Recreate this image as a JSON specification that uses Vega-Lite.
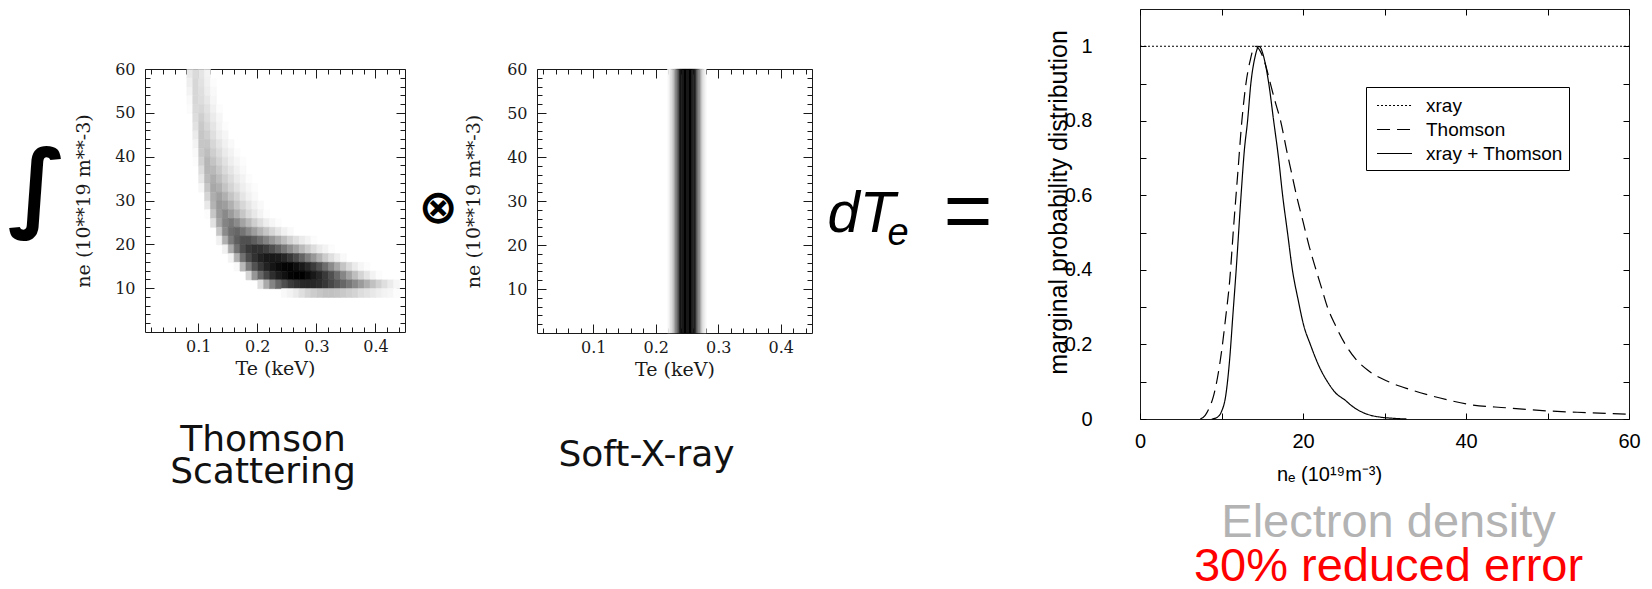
{
  "$schema": "https://vega.github.io/schema/vega-lite/v6.json",
  "background": "white",
  "padding": {"left": 6, "top": 8, "right": 0, "bottom": 0},
  "datasets": {
    "thomson": [
      {"te":0.08,"ne":58,"p":0.08},{"te":0.09,"ne":58,"p":0.13},{"te":0.10,"ne":58,"p":0.09},{"te":0.11,"ne":58,"p":0.04},
      {"te":0.08,"ne":56,"p":0.06},{"te":0.09,"ne":56,"p":0.14},{"te":0.10,"ne":56,"p":0.10},{"te":0.11,"ne":56,"p":0.05},{"te":0.12,"ne":56,"p":0.01},
      {"te":0.08,"ne":54,"p":0.04},{"te":0.09,"ne":54,"p":0.14},{"te":0.10,"ne":54,"p":0.11},{"te":0.11,"ne":54,"p":0.06},{"te":0.12,"ne":54,"p":0.02},
      {"te":0.08,"ne":52,"p":0.02},{"te":0.09,"ne":52,"p":0.14},{"te":0.10,"ne":52,"p":0.12},{"te":0.11,"ne":52,"p":0.08},{"te":0.12,"ne":52,"p":0.03},
      {"te":0.08,"ne":50,"p":0.01},{"te":0.09,"ne":50,"p":0.13},{"te":0.10,"ne":50,"p":0.14},{"te":0.11,"ne":50,"p":0.10},{"te":0.12,"ne":50,"p":0.05},{"te":0.13,"ne":50,"p":0.01},
      {"te":0.09,"ne":48,"p":0.12},{"te":0.10,"ne":48,"p":0.17},{"te":0.11,"ne":48,"p":0.12},{"te":0.12,"ne":48,"p":0.07},{"te":0.13,"ne":48,"p":0.03},
      {"te":0.09,"ne":46,"p":0.10},{"te":0.10,"ne":46,"p":0.19},{"te":0.11,"ne":46,"p":0.14},{"te":0.12,"ne":46,"p":0.09},{"te":0.13,"ne":46,"p":0.04},{"te":0.14,"ne":46,"p":0.01},
      {"te":0.09,"ne":44,"p":0.07},{"te":0.10,"ne":44,"p":0.20},{"te":0.11,"ne":44,"p":0.17},{"te":0.12,"ne":44,"p":0.11},{"te":0.13,"ne":44,"p":0.06},{"te":0.14,"ne":44,"p":0.03},
      {"te":0.09,"ne":42,"p":0.04},{"te":0.10,"ne":42,"p":0.20},{"te":0.11,"ne":42,"p":0.20},{"te":0.12,"ne":42,"p":0.14},{"te":0.13,"ne":42,"p":0.09},{"te":0.14,"ne":42,"p":0.05},{"te":0.15,"ne":42,"p":0.02},
      {"te":0.09,"ne":40,"p":0.02},{"te":0.10,"ne":40,"p":0.19},{"te":0.11,"ne":40,"p":0.23},{"te":0.12,"ne":40,"p":0.17},{"te":0.13,"ne":40,"p":0.12},{"te":0.14,"ne":40,"p":0.07},{"te":0.15,"ne":40,"p":0.04},{"te":0.16,"ne":40,"p":0.01},
      {"te":0.09,"ne":38,"p":0.01},{"te":0.10,"ne":38,"p":0.16},{"te":0.11,"ne":38,"p":0.26},{"te":0.12,"ne":38,"p":0.21},{"te":0.13,"ne":38,"p":0.15},{"te":0.14,"ne":38,"p":0.10},{"te":0.15,"ne":38,"p":0.06},{"te":0.16,"ne":38,"p":0.03},{"te":0.17,"ne":38,"p":0.01},
      {"te":0.10,"ne":36,"p":0.12},{"te":0.11,"ne":36,"p":0.26},{"te":0.12,"ne":36,"p":0.25},{"te":0.13,"ne":36,"p":0.19},{"te":0.14,"ne":36,"p":0.13},{"te":0.15,"ne":36,"p":0.09},{"te":0.16,"ne":36,"p":0.05},{"te":0.17,"ne":36,"p":0.02},
      {"te":0.10,"ne":34,"p":0.08},{"te":0.11,"ne":34,"p":0.24},{"te":0.12,"ne":34,"p":0.29},{"te":0.13,"ne":34,"p":0.23},{"te":0.14,"ne":34,"p":0.17},{"te":0.15,"ne":34,"p":0.12},{"te":0.16,"ne":34,"p":0.07},{"te":0.17,"ne":34,"p":0.04},{"te":0.18,"ne":34,"p":0.01},
      {"te":0.10,"ne":32,"p":0.03},{"te":0.11,"ne":32,"p":0.20},{"te":0.12,"ne":32,"p":0.31},{"te":0.13,"ne":32,"p":0.28},{"te":0.14,"ne":32,"p":0.21},{"te":0.15,"ne":32,"p":0.15},{"te":0.16,"ne":32,"p":0.10},{"te":0.17,"ne":32,"p":0.06},{"te":0.18,"ne":32,"p":0.03},{"te":0.19,"ne":32,"p":0.01},
      {"te":0.11,"ne":30,"p":0.15},{"te":0.12,"ne":30,"p":0.29},{"te":0.13,"ne":30,"p":0.34},{"te":0.14,"ne":30,"p":0.28},{"te":0.15,"ne":30,"p":0.21},{"te":0.16,"ne":30,"p":0.15},{"te":0.17,"ne":30,"p":0.09},{"te":0.18,"ne":30,"p":0.05},{"te":0.19,"ne":30,"p":0.02},
      {"te":0.11,"ne":28,"p":0.08},{"te":0.12,"ne":28,"p":0.27},{"te":0.13,"ne":28,"p":0.37},{"te":0.14,"ne":28,"p":0.35},{"te":0.15,"ne":28,"p":0.28},{"te":0.16,"ne":28,"p":0.20},{"te":0.17,"ne":28,"p":0.14},{"te":0.18,"ne":28,"p":0.09},{"te":0.19,"ne":28,"p":0.05},{"te":0.20,"ne":28,"p":0.02},
      {"te":0.11,"ne":26,"p":0.01},{"te":0.12,"ne":26,"p":0.20},{"te":0.13,"ne":26,"p":0.36},{"te":0.14,"ne":26,"p":0.43},{"te":0.15,"ne":26,"p":0.36},{"te":0.16,"ne":26,"p":0.28},{"te":0.17,"ne":26,"p":0.20},{"te":0.18,"ne":26,"p":0.13},{"te":0.19,"ne":26,"p":0.08},{"te":0.20,"ne":26,"p":0.04},{"te":0.21,"ne":26,"p":0.01},
      {"te":0.12,"ne":24,"p":0.10},{"te":0.13,"ne":24,"p":0.32},{"te":0.14,"ne":24,"p":0.45},{"te":0.15,"ne":24,"p":0.49},{"te":0.16,"ne":24,"p":0.42},{"te":0.17,"ne":24,"p":0.33},{"te":0.18,"ne":24,"p":0.25},{"te":0.19,"ne":24,"p":0.17},{"te":0.20,"ne":24,"p":0.11},{"te":0.21,"ne":24,"p":0.06},{"te":0.22,"ne":24,"p":0.03},{"te":0.23,"ne":24,"p":0.01},
      {"te":0.13,"ne":22,"p":0.20},{"te":0.14,"ne":22,"p":0.42},{"te":0.15,"ne":22,"p":0.53},{"te":0.16,"ne":22,"p":0.57},{"te":0.17,"ne":22,"p":0.51},{"te":0.18,"ne":22,"p":0.43},{"te":0.19,"ne":22,"p":0.35},{"te":0.20,"ne":22,"p":0.27},{"te":0.21,"ne":22,"p":0.20},{"te":0.22,"ne":22,"p":0.14},{"te":0.23,"ne":22,"p":0.09},{"te":0.24,"ne":22,"p":0.05},{"te":0.25,"ne":22,"p":0.02},
      {"te":0.13,"ne":20,"p":0.05},{"te":0.14,"ne":20,"p":0.28},{"te":0.15,"ne":20,"p":0.48},{"te":0.16,"ne":20,"p":0.60},{"te":0.17,"ne":20,"p":0.66},{"te":0.18,"ne":20,"p":0.66},{"te":0.19,"ne":20,"p":0.60},{"te":0.20,"ne":20,"p":0.53},{"te":0.21,"ne":20,"p":0.45},{"te":0.22,"ne":20,"p":0.37},{"te":0.23,"ne":20,"p":0.30},{"te":0.24,"ne":20,"p":0.23},{"te":0.25,"ne":20,"p":0.16},{"te":0.26,"ne":20,"p":0.11},{"te":0.27,"ne":20,"p":0.07},{"te":0.28,"ne":20,"p":0.04},{"te":0.29,"ne":20,"p":0.01},
      {"te":0.14,"ne":18,"p":0.05},{"te":0.15,"ne":18,"p":0.30},{"te":0.16,"ne":18,"p":0.52},{"te":0.17,"ne":18,"p":0.67},{"te":0.18,"ne":18,"p":0.76},{"te":0.19,"ne":18,"p":0.80},{"te":0.20,"ne":18,"p":0.79},{"te":0.21,"ne":18,"p":0.74},{"te":0.22,"ne":18,"p":0.67},{"te":0.23,"ne":18,"p":0.59},{"te":0.24,"ne":18,"p":0.50},{"te":0.25,"ne":18,"p":0.41},{"te":0.26,"ne":18,"p":0.33},{"te":0.27,"ne":18,"p":0.25},{"te":0.28,"ne":18,"p":0.18},{"te":0.29,"ne":18,"p":0.12},{"te":0.30,"ne":18,"p":0.07},{"te":0.31,"ne":18,"p":0.04},{"te":0.32,"ne":18,"p":0.01},
      {"te":0.15,"ne":16,"p":0.04},{"te":0.16,"ne":16,"p":0.28},{"te":0.17,"ne":16,"p":0.52},{"te":0.18,"ne":16,"p":0.68},{"te":0.19,"ne":16,"p":0.79},{"te":0.20,"ne":16,"p":0.87},{"te":0.21,"ne":16,"p":0.91},{"te":0.22,"ne":16,"p":0.92},{"te":0.23,"ne":16,"p":0.90},{"te":0.24,"ne":16,"p":0.85},{"te":0.25,"ne":16,"p":0.77},{"te":0.26,"ne":16,"p":0.68},{"te":0.27,"ne":16,"p":0.58},{"te":0.28,"ne":16,"p":0.47},{"te":0.29,"ne":16,"p":0.37},{"te":0.30,"ne":16,"p":0.27},{"te":0.31,"ne":16,"p":0.18},{"te":0.32,"ne":16,"p":0.11},{"te":0.33,"ne":16,"p":0.06},{"te":0.34,"ne":16,"p":0.02},
      {"te":0.16,"ne":14,"p":0.02},{"te":0.17,"ne":14,"p":0.25},{"te":0.18,"ne":14,"p":0.48},{"te":0.19,"ne":14,"p":0.65},{"te":0.20,"ne":14,"p":0.77},{"te":0.21,"ne":14,"p":0.87},{"te":0.22,"ne":14,"p":0.93},{"te":0.23,"ne":14,"p":0.97},{"te":0.24,"ne":14,"p":0.99},{"te":0.25,"ne":14,"p":0.99},{"te":0.26,"ne":14,"p":0.96},{"te":0.27,"ne":14,"p":0.91},{"te":0.28,"ne":14,"p":0.84},{"te":0.29,"ne":14,"p":0.75},{"te":0.30,"ne":14,"p":0.65},{"te":0.31,"ne":14,"p":0.54},{"te":0.32,"ne":14,"p":0.42},{"te":0.33,"ne":14,"p":0.31},{"te":0.34,"ne":14,"p":0.21},{"te":0.35,"ne":14,"p":0.13},{"te":0.36,"ne":14,"p":0.07},{"te":0.37,"ne":14,"p":0.03},{"te":0.38,"ne":14,"p":0.01},
      {"te":0.18,"ne":12,"p":0.15},{"te":0.19,"ne":12,"p":0.38},{"te":0.20,"ne":12,"p":0.56},{"te":0.21,"ne":12,"p":0.70},{"te":0.22,"ne":12,"p":0.81},{"te":0.23,"ne":12,"p":0.89},{"te":0.24,"ne":12,"p":0.95},{"te":0.25,"ne":12,"p":0.99},{"te":0.26,"ne":12,"p":1.0},{"te":0.27,"ne":12,"p":1.0},{"te":0.28,"ne":12,"p":0.97},{"te":0.29,"ne":12,"p":0.92},{"te":0.30,"ne":12,"p":0.85},{"te":0.31,"ne":12,"p":0.76},{"te":0.32,"ne":12,"p":0.66},{"te":0.33,"ne":12,"p":0.55},{"te":0.34,"ne":12,"p":0.44},{"te":0.35,"ne":12,"p":0.33},{"te":0.36,"ne":12,"p":0.23},{"te":0.37,"ne":12,"p":0.15},{"te":0.38,"ne":12,"p":0.09},{"te":0.39,"ne":12,"p":0.04},{"te":0.40,"ne":12,"p":0.01},
      {"te":0.20,"ne":10,"p":0.12},{"te":0.21,"ne":10,"p":0.30},{"te":0.22,"ne":10,"p":0.45},{"te":0.23,"ne":10,"p":0.57},{"te":0.24,"ne":10,"p":0.67},{"te":0.25,"ne":10,"p":0.75},{"te":0.26,"ne":10,"p":0.80},{"te":0.27,"ne":10,"p":0.84},{"te":0.28,"ne":10,"p":0.85},{"te":0.29,"ne":10,"p":0.85},{"te":0.30,"ne":10,"p":0.82},{"te":0.31,"ne":10,"p":0.77},{"te":0.32,"ne":10,"p":0.70},{"te":0.33,"ne":10,"p":0.63},{"te":0.34,"ne":10,"p":0.57},{"te":0.35,"ne":10,"p":0.50},{"te":0.36,"ne":10,"p":0.43},{"te":0.37,"ne":10,"p":0.36},{"te":0.38,"ne":10,"p":0.29},{"te":0.39,"ne":10,"p":0.22},{"te":0.40,"ne":10,"p":0.16},{"te":0.41,"ne":10,"p":0.11},{"te":0.42,"ne":10,"p":0.07},{"te":0.43,"ne":10,"p":0.03},
      {"te":0.24,"ne":8,"p":0.02},{"te":0.25,"ne":8,"p":0.04},{"te":0.26,"ne":8,"p":0.07},{"te":0.27,"ne":8,"p":0.11},{"te":0.28,"ne":8,"p":0.15},{"te":0.29,"ne":8,"p":0.18},{"te":0.30,"ne":8,"p":0.20},{"te":0.31,"ne":8,"p":0.22},{"te":0.32,"ne":8,"p":0.22},{"te":0.33,"ne":8,"p":0.21},{"te":0.34,"ne":8,"p":0.19},{"te":0.35,"ne":8,"p":0.17},{"te":0.36,"ne":8,"p":0.15},{"te":0.37,"ne":8,"p":0.12},{"te":0.38,"ne":8,"p":0.10},{"te":0.39,"ne":8,"p":0.08},{"te":0.40,"ne":8,"p":0.06},{"te":0.41,"ne":8,"p":0.04},{"te":0.42,"ne":8,"p":0.03},{"te":0.43,"ne":8,"p":0.01}
    ],
    "xray": [
      {"te":0.218,"p":0.02},{"te":0.220,"p":0.05},{"te":0.222,"p":0.09},{"te":0.224,"p":0.14},{"te":0.226,"p":0.21},
      {"te":0.228,"p":0.30},{"te":0.230,"p":0.41},{"te":0.232,"p":0.54},{"te":0.234,"p":0.67},{"te":0.236,"p":0.82},
      {"te":0.238,"p":0.93},{"te":0.240,"p":0.97},{"te":0.242,"p":1.0},{"te":0.244,"p":1.0},{"te":0.246,"p":1.0},
      {"te":0.248,"p":1.0},{"te":0.250,"p":1.0},{"te":0.252,"p":1.0},{"te":0.254,"p":1.0},{"te":0.256,"p":0.99},
      {"te":0.258,"p":0.96},{"te":0.260,"p":0.90},{"te":0.262,"p":0.80},{"te":0.264,"p":0.68},{"te":0.266,"p":0.55},
      {"te":0.268,"p":0.42},{"te":0.270,"p":0.30},{"te":0.272,"p":0.20},{"te":0.274,"p":0.12},{"te":0.276,"p":0.07},
      {"te":0.278,"p":0.03}
    ],
    "marginals": [
      {"s":"xray","x":0,"y":1},{"s":"xray","x":60,"y":1},
      {"s":"Thomson","x":7.4,"y":0},{"s":"Thomson","x":8,"y":0.01},{"s":"Thomson","x":8.5,"y":0.03},{"s":"Thomson","x":9,"y":0.06},
      {"s":"Thomson","x":9.5,"y":0.11},{"s":"Thomson","x":10,"y":0.18},{"s":"Thomson","x":10.5,"y":0.27},{"s":"Thomson","x":11,"y":0.37},
      {"s":"Thomson","x":11.5,"y":0.52},{"s":"Thomson","x":12,"y":0.66},{"s":"Thomson","x":12.5,"y":0.8},{"s":"Thomson","x":13,"y":0.9},
      {"s":"Thomson","x":13.5,"y":0.96},{"s":"Thomson","x":14.1,"y":1.0},{"s":"Thomson","x":14.8,"y":0.985},{"s":"Thomson","x":15.4,"y":0.95},
      {"s":"Thomson","x":16,"y":0.9},{"s":"Thomson","x":16.6,"y":0.85},{"s":"Thomson","x":17.25,"y":0.8},{"s":"Thomson","x":18,"y":0.72},
      {"s":"Thomson","x":18.6,"y":0.66},{"s":"Thomson","x":19.2,"y":0.6},{"s":"Thomson","x":20,"y":0.53},{"s":"Thomson","x":20.8,"y":0.46},
      {"s":"Thomson","x":21.6,"y":0.4},{"s":"Thomson","x":22.3,"y":0.35},{"s":"Thomson","x":23,"y":0.3},{"s":"Thomson","x":24,"y":0.25},
      {"s":"Thomson","x":25.2,"y":0.2},{"s":"Thomson","x":26.5,"y":0.16},{"s":"Thomson","x":28,"y":0.13},{"s":"Thomson","x":30.5,"y":0.1},
      {"s":"Thomson","x":33,"y":0.08},{"s":"Thomson","x":35.3,"y":0.065},{"s":"Thomson","x":38,"y":0.05},{"s":"Thomson","x":40.1,"y":0.04},
      {"s":"Thomson","x":45,"y":0.03},{"s":"Thomson","x":49.8,"y":0.022},{"s":"Thomson","x":55,"y":0.017},{"s":"Thomson","x":60,"y":0.013},
      {"s":"xray + Thomson","x":8.8,"y":0},{"s":"xray + Thomson","x":9.5,"y":0.005},{"s":"xray + Thomson","x":10,"y":0.02},{"s":"xray + Thomson","x":10.5,"y":0.06},
      {"s":"xray + Thomson","x":11,"y":0.16},{"s":"xray + Thomson","x":11.4,"y":0.28},{"s":"xray + Thomson","x":11.8,"y":0.4},{"s":"xray + Thomson","x":12.4,"y":0.6},
      {"s":"xray + Thomson","x":12.8,"y":0.72},{"s":"xray + Thomson","x":13.2,"y":0.8},{"s":"xray + Thomson","x":13.6,"y":0.9},{"s":"xray + Thomson","x":14.1,"y":0.97},
      {"s":"xray + Thomson","x":14.6,"y":1.0},{"s":"xray + Thomson","x":15.2,"y":0.97},{"s":"xray + Thomson","x":15.8,"y":0.9},{"s":"xray + Thomson","x":16.4,"y":0.8},
      {"s":"xray + Thomson","x":17,"y":0.7},{"s":"xray + Thomson","x":17.5,"y":0.6},{"s":"xray + Thomson","x":18.1,"y":0.5},{"s":"xray + Thomson","x":18.7,"y":0.4},
      {"s":"xray + Thomson","x":19.4,"y":0.32},{"s":"xray + Thomson","x":20.1,"y":0.25},{"s":"xray + Thomson","x":20.9,"y":0.2},{"s":"xray + Thomson","x":22,"y":0.14},
      {"s":"xray + Thomson","x":23,"y":0.1},{"s":"xray + Thomson","x":24,"y":0.07},{"s":"xray + Thomson","x":25.2,"y":0.05},{"s":"xray + Thomson","x":26,"y":0.035},
      {"s":"xray + Thomson","x":27.1,"y":0.02},{"s":"xray + Thomson","x":28.3,"y":0.01},{"s":"xray + Thomson","x":29.5,"y":0.005},{"s":"xray + Thomson","x":31,"y":0.002},
      {"s":"xray + Thomson","x":32.7,"y":0}
    ]
  },
  "hconcat": [
    {
      "spacing": 50,
      "vconcat": [
        {
          "width": 1,
          "height": 1,
          "view": {"stroke": null},
          "data": {"values": []},
          "mark": {"type": "rule"},
          "encoding": {}
        },
        {
          "spacing": 11,
          "hconcat": [
            {
              "width": 260,
              "height": 263,
              "title": {"text": ["Thomson", "Scattering"], "orient": "bottom", "frame": "group", "anchor": "middle", "dx": -12, "offset": 45, "font": "DejaVu Sans", "fontSize": 36, "fontWeight": "normal", "lineHeight": 32, "color": "#111111"},
              "resolve": {"axis": {"x": "independent", "y": "independent"}},
              "layer": [
                {
                  "data": {"name": "thomson"},
                  "mark": {"type": "rect", "binSpacing": 0, "strokeWidth": 0.6},
                  "encoding": {
                    "x": {"field": "te", "type": "quantitative", "bin": {"binned": true, "step": 0.01},
                      "scale": {"domain": [0.01, 0.45], "nice": false, "zero": false},
                      "axis": {"orient": "bottom", "values": [0.1, 0.2, 0.3, 0.4], "format": ".1f", "tickSize": -9, "tickColor": "#1a1a1a", "labelPadding": 15, "labelFont": "DejaVu Serif", "labelFontSize": 16, "labelColor": "#1a1a1a", "title": "Te (keV)", "titleFont": "DejaVu Serif", "titleFontSize": 19, "titleFontWeight": "normal", "titleColor": "#1a1a1a", "titlePadding": 5}},
                    "y": {"field": "ne", "type": "quantitative", "bin": {"binned": true, "step": 2},
                      "scale": {"domain": [0, 60], "nice": false, "zero": false},
                      "axis": {"orient": "left", "values": [10, 20, 30, 40, 50, 60], "tickSize": -9, "tickColor": "#1a1a1a", "labelPadding": 19, "labelFont": "DejaVu Serif", "labelFontSize": 16, "labelColor": "#1a1a1a", "title": "ne (10**19 m**-3)", "titleFont": "DejaVu Serif", "titleFontSize": 19, "titleFontWeight": "normal", "titleColor": "#1a1a1a", "titlePadding": 21}},
                    "color": {"field": "p", "type": "quantitative", "scale": {"domain": [0, 1], "range": ["#ffffff", "#000000"]}, "legend": null},
                    "stroke": {"field": "p", "type": "quantitative", "scale": {"domain": [0, 1], "range": ["#ffffff", "#000000"]}, "legend": null}
                  }
                },
                {
                  "data": {"values": []},
                  "mark": {"type": "rule"},
                  "encoding": {
                    "x": {"field": "te", "type": "quantitative", "axis": {"orient": "top", "values": [0.1, 0.2, 0.3, 0.4], "tickSize": -9, "tickColor": "#1a1a1a", "labels": false, "title": null}},
                    "y": {"field": "ne", "type": "quantitative", "axis": {"orient": "right", "values": [10, 20, 30, 40, 50, 60], "tickSize": -9, "tickColor": "#1a1a1a", "labels": false, "title": null}}
                  }
                },
                {
                  "data": {"values": []},
                  "mark": {"type": "rule"},
                  "encoding": {
                    "x": {"field": "te", "type": "quantitative", "axis": {"orient": "bottom", "values": [0.02,0.04,0.06,0.08,0.1,0.12,0.14,0.16,0.18,0.2,0.22,0.24,0.26,0.28,0.3,0.32,0.34,0.36,0.38,0.4,0.42,0.44], "tickSize": -5, "tickColor": "#1a1a1a", "labels": false, "title": null}},
                    "y": {"field": "ne", "type": "quantitative", "axis": {"orient": "left", "values": [2,4,6,8,10,12,14,16,18,20,22,24,26,28,30,32,34,36,38,40,42,44,46,48,50,52,54,56,58], "tickSize": -5, "tickColor": "#1a1a1a", "labels": false, "title": "∫", "titleAngle": 0, "titleAlign": "right", "titleBaseline": "alphabetic", "titleFont": "DejaVu Sans", "titleFontSize": 97, "titleFontWeight": "bold", "titleColor": "#000000", "titlePadding": 78, "titleY": 149}}
                  }
                },
                {
                  "data": {"values": []},
                  "mark": {"type": "rule"},
                  "encoding": {
                    "x": {"field": "te", "type": "quantitative", "axis": {"orient": "top", "values": [0.02,0.04,0.06,0.08,0.1,0.12,0.14,0.16,0.18,0.2,0.22,0.24,0.26,0.28,0.3,0.32,0.34,0.36,0.38,0.4,0.42,0.44], "tickSize": -5, "tickColor": "#1a1a1a", "labels": false, "title": null}},
                    "y": {"field": "ne", "type": "quantitative", "axis": {"orient": "right", "values": [2,4,6,8,10,12,14,16,18,20,22,24,26,28,30,32,34,36,38,40,42,44,46,48,50,52,54,56,58], "tickSize": -5, "tickColor": "#1a1a1a", "labels": false, "title": null}}
                  }
                }
              ]
            },
            {
              "width": 275,
              "height": 264,
              "title": {"text": "Soft-X-ray", "orient": "bottom", "frame": "group", "anchor": "middle", "dx": -28, "offset": 59, "font": "DejaVu Sans", "fontSize": 36, "fontWeight": "normal", "color": "#111111"},
              "resolve": {"axis": {"x": "independent", "y": "independent"}},
              "layer": [
                {
                  "data": {"name": "xray"},
                  "mark": {"type": "rect", "binSpacing": 0, "strokeWidth": 0.4},
                  "encoding": {
                    "x": {"field": "te", "type": "quantitative", "bin": {"binned": true, "step": 0.002},
                      "scale": {"domain": [0.01, 0.45], "nice": false, "zero": false},
                      "axis": {"orient": "bottom", "values": [0.1, 0.2, 0.3, 0.4], "format": ".1f", "tickSize": -9, "tickColor": "#1a1a1a", "labelPadding": 15, "labelFont": "DejaVu Serif", "labelFontSize": 16, "labelColor": "#1a1a1a", "title": "Te (keV)", "titleFont": "DejaVu Serif", "titleFontSize": 19, "titleFontWeight": "normal", "titleColor": "#1a1a1a", "titlePadding": 5}},
                    "y": {"datum": 0, "type": "quantitative",
                      "scale": {"domain": [0, 60], "nice": false, "zero": false},
                      "axis": {"orient": "left", "values": [10, 20, 30, 40, 50, 60], "tickSize": -9, "tickColor": "#1a1a1a", "labelPadding": 19, "labelFont": "DejaVu Serif", "labelFontSize": 16, "labelColor": "#1a1a1a", "title": "ne (10**19 m**-3)", "titleFont": "DejaVu Serif", "titleFontSize": 19, "titleFontWeight": "normal", "titleColor": "#1a1a1a", "titlePadding": 23}},
                    "y2": {"datum": 60},
                    "color": {"field": "p", "type": "quantitative", "scale": {"domain": [0, 1], "range": ["#ffffff", "#000000"]}, "legend": null},
                    "stroke": {"field": "p", "type": "quantitative", "scale": {"domain": [0, 1], "range": ["#ffffff", "#000000"]}, "legend": null}
                  }
                },
                {
                  "data": {"values": []},
                  "mark": {"type": "rule"},
                  "encoding": {
                    "x": {"field": "te", "type": "quantitative", "axis": {"orient": "top", "values": [0.1, 0.2, 0.3, 0.4], "tickSize": -9, "tickColor": "#1a1a1a", "labels": false, "title": null}},
                    "y": {"field": "ne", "type": "quantitative", "axis": {"orient": "right", "values": [10, 20, 30, 40, 50, 60], "tickSize": -9, "tickColor": "#1a1a1a", "labels": false, "title": null}}
                  }
                },
                {
                  "data": {"values": []},
                  "mark": {"type": "rule"},
                  "encoding": {
                    "x": {"field": "te", "type": "quantitative", "axis": {"orient": "bottom", "values": [0.02,0.04,0.06,0.08,0.1,0.12,0.14,0.16,0.18,0.2,0.22,0.24,0.26,0.28,0.3,0.32,0.34,0.36,0.38,0.4,0.42,0.44], "tickSize": -5, "tickColor": "#1a1a1a", "labels": false, "title": null}},
                    "y": {"field": "ne", "type": "quantitative", "axis": {"orient": "left", "values": [2,4,6,8,10,12,14,16,18,20,22,24,26,28,30,32,34,36,38,40,42,44,46,48,50,52,54,56,58], "tickSize": -5, "tickColor": "#1a1a1a", "labels": false, "title": "⊗", "titleAngle": 0, "titleAlign": "right", "titleBaseline": "middle", "titleFont": "DejaVu Sans", "titleFontSize": 47, "titleFontWeight": "bold", "titleColor": "#000000", "titlePadding": 79, "titleY": 139}}
                  }
                },
                {
                  "data": {"values": []},
                  "mark": {"type": "rule"},
                  "encoding": {
                    "x": {"field": "te", "type": "quantitative", "axis": {"orient": "top", "values": [0.02,0.04,0.06,0.08,0.1,0.12,0.14,0.16,0.18,0.2,0.22,0.24,0.26,0.28,0.3,0.32,0.34,0.36,0.38,0.4,0.42,0.44], "tickSize": -5, "tickColor": "#1a1a1a", "labels": false, "title": null}},
                    "y": {"field": "ne", "type": "quantitative", "axis": {"orient": "right", "values": [2,4,6,8,10,12,14,16,18,20,22,24,26,28,30,32,34,36,38,40,42,44,46,48,50,52,54,56,58], "tickSize": -5, "tickColor": "#1a1a1a", "labels": false, "title": null}}
                  }
                }
              ]
            }
          ]
        }
      ]
    },
    {
      "width": 489,
      "height": 410,
      "title": {"text": "Electron density", "subtitle": "30% reduced error", "orient": "bottom", "frame": "group", "anchor": "middle", "dx": 4, "offset": 16, "font": "Liberation Sans", "fontSize": 47, "fontWeight": "normal", "color": "#b3b3b3", "subtitleFont": "Liberation Sans", "subtitleFontSize": 47, "subtitleColor": "#ff0000", "subtitlePadding": -3},
      "resolve": {"axis": {"x": "independent", "y": "independent"}},
      "layer": [
        {
          "data": {"name": "marginals"},
          "mark": {"type": "line", "interpolate": "monotone", "strokeWidth": 1.2, "color": "#000000"},
          "encoding": {
            "x": {"field": "x", "type": "quantitative", "scale": {"domain": [0, 60], "nice": false, "zero": false},
              "axis": {"orient": "bottom", "values": [0, 10, 20, 30, 40, 50, 60], "labelExpr": "datum.value % 20 === 0 ? datum.label : ''", "tickSize": -6, "tickColor": "#000000", "labelPadding": 18, "labelFont": "Liberation Sans", "labelFontSize": 20, "labelColor": "#000000", "title": "nₑ (10¹⁹m⁻³)", "titleFont": "Liberation Sans", "titleFontSize": 20, "titleFontWeight": "normal", "titleColor": "#000000", "titlePadding": 13, "titleX": 189}},
            "y": {"field": "y", "type": "quantitative", "scale": {"domain": [0, 1.1], "nice": false, "zero": false},
              "axis": {"orient": "left", "values": [0, 0.1, 0.2, 0.3, 0.4, 0.5, 0.6, 0.7, 0.8, 0.9, 1.0], "format": "~g", "labelExpr": "abs(datum.value * 5 - round(datum.value * 5)) < 0.01 ? datum.label : ''", "tickSize": -6, "tickColor": "#000000", "labelPadding": 54, "labelFont": "Liberation Sans", "labelFontSize": 20, "labelColor": "#000000", "title": "marginal probability distribution", "titleFont": "Liberation Sans", "titleFontSize": 25, "titleFontWeight": "normal", "titleColor": "#000000", "titlePadding": -7, "titleY": 193}},
            "strokeDash": {"field": "s", "type": "nominal",
              "scale": {"domain": ["xray", "Thomson", "xray + Thomson"], "range": [[2, 2], [13, 7], [1, 0]]},
              "legend": {"orient": "none", "legendX": 1221, "legendY": 78, "title": null, "labelFont": "Liberation Sans", "labelFontSize": 19, "labelColor": "#000000", "symbolType": "M-0.65,0H2.39", "symbolSize": 529, "symbolStrokeWidth": 1.2, "symbolStrokeColor": "#000000", "symbolFillColor": "transparent", "labelOffset": 29, "rowPadding": 1, "padding": 6, "strokeColor": "#000000", "fillColor": "#ffffff", "cornerRadius": 0}}
          }
        },
        {
          "data": {"values": []},
          "mark": {"type": "rule"},
          "encoding": {
            "x": {"field": "x", "type": "quantitative", "axis": {"orient": "top", "values": [0, 10, 20, 30, 40, 50, 60], "tickSize": -6, "tickColor": "#000000", "labels": false, "title": null}},
            "y": {"field": "y", "type": "quantitative", "axis": {"orient": "right", "values": [0, 0.1, 0.2, 0.3, 0.4, 0.5, 0.6, 0.7, 0.8, 0.9, 1.0], "tickSize": -6, "tickColor": "#000000", "labels": false, "title": null}}
          }
        },
        {
          "data": {"values": []},
          "mark": {"type": "rule"},
          "encoding": {
            "x": {"field": "x", "type": "quantitative", "axis": null},
            "y": {"field": "y", "type": "quantitative", "axis": {"orient": "left", "ticks": false, "labels": false, "title": "dT", "titleAngle": 0, "titleAlign": "left", "titleBaseline": "alphabetic", "titleFont": "Liberation Sans", "titleFontStyle": "italic", "titleFontWeight": "normal", "titleFontSize": 58, "titleColor": "#000000", "titlePadding": 313, "titleY": 222}}
          }
        },
        {
          "data": {"values": []},
          "mark": {"type": "rule"},
          "encoding": {
            "x": {"field": "x", "type": "quantitative", "axis": null},
            "y": {"field": "y", "type": "quantitative", "axis": {"orient": "left", "ticks": false, "labels": false, "title": "e", "titleAngle": 0, "titleAlign": "left", "titleBaseline": "alphabetic", "titleFont": "Liberation Sans", "titleFontStyle": "italic", "titleFontWeight": "normal", "titleFontSize": 38, "titleColor": "#000000", "titlePadding": 253, "titleY": 235}}
          }
        },
        {
          "data": {"values": []},
          "mark": {"type": "rule"},
          "encoding": {
            "x": {"field": "x", "type": "quantitative", "axis": null},
            "y": {"field": "y", "type": "quantitative", "axis": {"orient": "left", "ticks": false, "labels": false, "title": "=", "titleAngle": 0, "titleAlign": "left", "titleBaseline": "alphabetic", "titleFont": "Liberation Sans", "titleFontWeight": "normal", "titleFontSize": 84, "titleColor": "#000000", "titlePadding": 197, "titleY": 229}}
          }
        }
      ]
    }
  ],
  "spacing": 13,
  "config": {
    "view": {"stroke": "#1a1a1a", "strokeWidth": 1},
    "axis": {"grid": false, "domain": false, "labelFlush": false, "labelOverlap": false, "tickWidth": 1}
  }
}
